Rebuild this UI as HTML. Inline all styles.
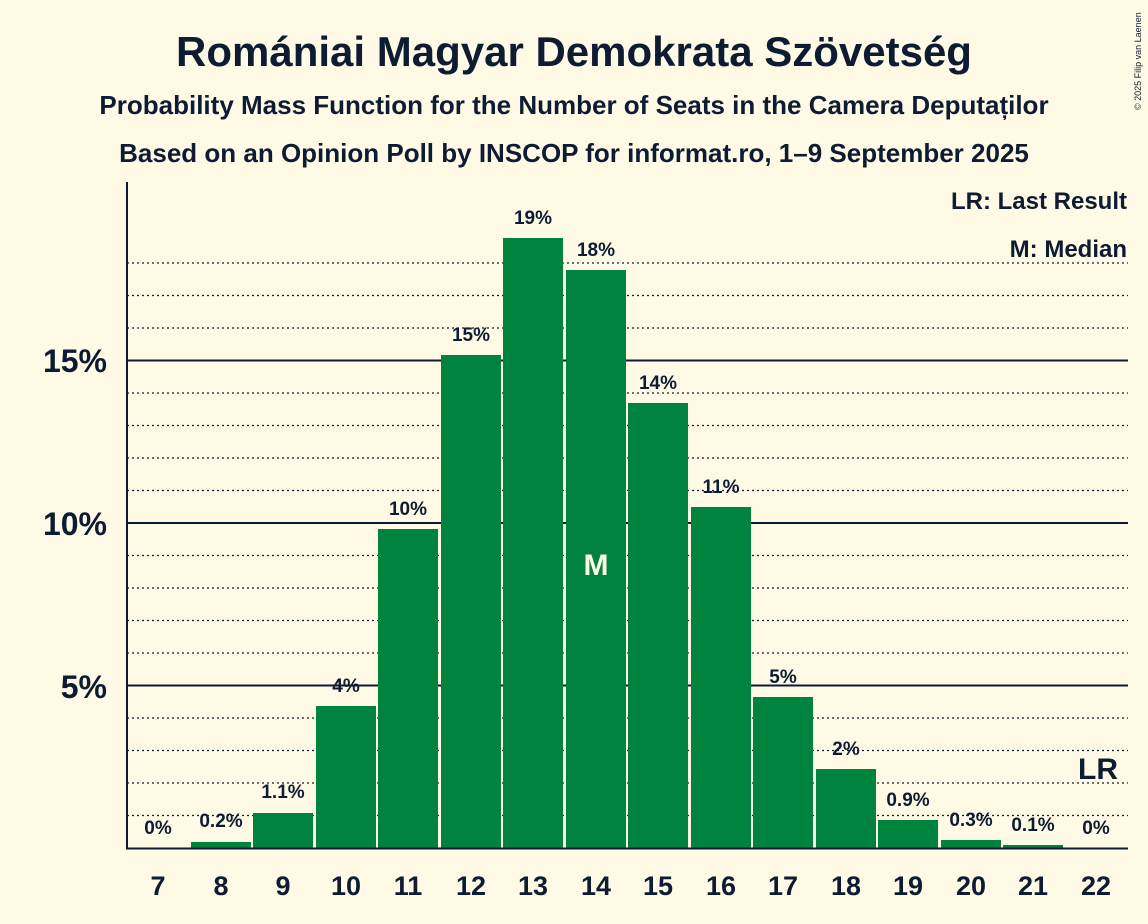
<!DOCTYPE html>
<html><head><meta charset="utf-8"><style>
body{margin:0;background:#fffae6;}
svg{display:block;font-family:"Liberation Sans",sans-serif;}
</style></head><body>
<svg width="1148" height="924" viewBox="0 0 1148 924" xmlns="http://www.w3.org/2000/svg">
<rect width="1148" height="924" fill="#fffae6"/>
<text x="574" y="66" text-anchor="middle" font-size="42" font-weight="bold" fill="#0d1b33">Romániai Magyar Demokrata Szövetség</text>
<text x="574" y="114" text-anchor="middle" font-size="26" font-weight="bold" fill="#0d1b33">Probability Mass Function for the Number of Seats in the Camera Deputaților</text>
<text x="574" y="162" text-anchor="middle" font-size="26" font-weight="bold" fill="#0d1b33">Based on an Opinion Poll by INSCOP for informat.ro, 1–9 September 2025</text>
<text x="1141" y="110" font-size="9" fill="#0d1b33" transform="rotate(-90 1141 110)">© 2025 Filip van Laenen</text>
<g stroke="#0d1b33" stroke-width="1.3" stroke-dasharray="2,3">
<line x1="127" x2="1128" y1="815.5" y2="815.5"/><line x1="127" x2="1128" y1="783" y2="783"/><line x1="127" x2="1128" y1="750.5" y2="750.5"/><line x1="127" x2="1128" y1="718" y2="718"/>
<line x1="127" x2="1128" y1="653" y2="653"/><line x1="127" x2="1128" y1="620.5" y2="620.5"/><line x1="127" x2="1128" y1="588" y2="588"/><line x1="127" x2="1128" y1="555.5" y2="555.5"/>
<line x1="127" x2="1128" y1="490.5" y2="490.5"/><line x1="127" x2="1128" y1="458" y2="458"/><line x1="127" x2="1128" y1="425.5" y2="425.5"/><line x1="127" x2="1128" y1="393" y2="393"/>
<line x1="127" x2="1128" y1="328" y2="328"/><line x1="127" x2="1128" y1="295.5" y2="295.5"/><line x1="127" x2="1128" y1="263" y2="263"/>
</g>
<g stroke="#0d1b33" stroke-width="2">
<line x1="127" x2="1128" y1="685.5" y2="685.5"/><line x1="127" x2="1128" y1="523" y2="523"/><line x1="127" x2="1128" y1="360.5" y2="360.5"/>
</g>
<g fill="#00843d">
<rect x="191" y="842" width="60" height="6"/>
<rect x="253" y="813" width="60" height="35"/>
<rect x="316" y="706" width="60" height="142"/>
<rect x="378" y="529" width="60" height="319"/>
<rect x="441" y="355" width="60" height="493"/>
<rect x="503" y="238" width="60" height="610"/>
<rect x="566" y="270" width="60" height="578"/>
<rect x="628" y="403" width="60" height="445"/>
<rect x="691" y="507" width="60" height="341"/>
<rect x="753" y="697" width="60" height="151"/>
<rect x="816" y="769" width="60" height="79"/>
<rect x="878" y="820" width="60" height="28"/>
<rect x="941" y="840" width="60" height="8"/>
<rect x="1003" y="845" width="60" height="3"/>
</g>
<line x1="127" x2="127" y1="182" y2="849" stroke="#0d1b33" stroke-width="2"/>
<line x1="126" x2="1128" y1="848.5" y2="848.5" stroke="#0d1b33" stroke-width="2"/>
<g font-size="19" font-weight="bold" fill="#0d1b33" text-anchor="middle">
<text x="158" y="834">0%</text><text x="221" y="827">0.2%</text><text x="283" y="798">1.1%</text><text x="346" y="692">4%</text>
<text x="408" y="515">10%</text><text x="471" y="341">15%</text><text x="533" y="224">19%</text><text x="596" y="256">18%</text>
<text x="658" y="389">14%</text><text x="721" y="493">11%</text><text x="783" y="683">5%</text><text x="846" y="755">2%</text>
<text x="908" y="806">0.9%</text><text x="971" y="826">0.3%</text><text x="1033" y="831">0.1%</text><text x="1096" y="834">0%</text>
</g>
<text x="596" y="575" text-anchor="middle" font-size="30" font-weight="bold" fill="#fffae6">M</text>
<g font-size="32" font-weight="bold" fill="#0d1b33" text-anchor="end">
<text x="107" y="372">15%</text><text x="107" y="535">10%</text><text x="107" y="698">5%</text>
</g>
<g font-size="27" font-weight="bold" fill="#0d1b33" text-anchor="middle">
<text x="158" y="895">7</text><text x="221" y="895">8</text><text x="283" y="895">9</text><text x="346" y="895">10</text>
<text x="408" y="895">11</text><text x="471" y="895">12</text><text x="533" y="895">13</text><text x="596" y="895">14</text>
<text x="658" y="895">15</text><text x="721" y="895">16</text><text x="783" y="895">17</text><text x="846" y="895">18</text>
<text x="908" y="895">19</text><text x="971" y="895">20</text><text x="1033" y="895">21</text><text x="1096" y="895">22</text>
</g>
<g font-weight="bold" fill="#0d1b33" text-anchor="end">
<text x="1127" y="209" font-size="24">LR: Last Result</text>
<text x="1127" y="257" font-size="24">M: Median</text>
<text x="1118" y="779" font-size="30">LR</text>
</g>
</svg>
</body></html>
